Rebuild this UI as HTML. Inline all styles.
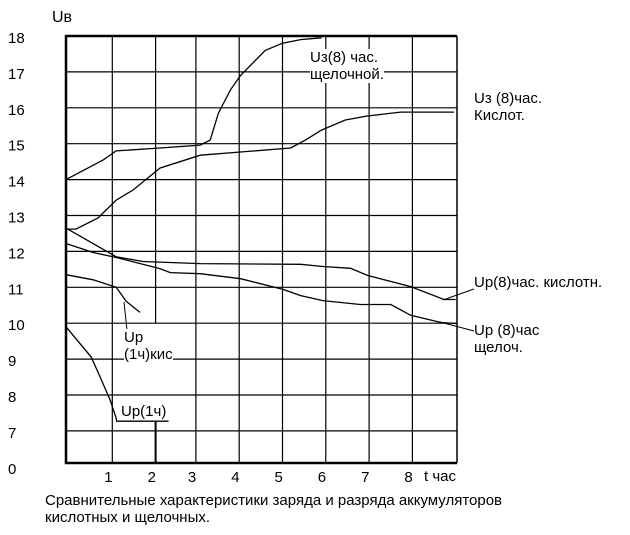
<!DOCTYPE html>
<html><head><meta charset="utf-8"><style>
body{margin:0;background:#fff;}
svg{display:block;font-family:"Liberation Sans",sans-serif;}
text{fill:#000;font-size:15px;}
</style></head><body>
<svg id="chart" width="630" height="535" viewBox="0 0 630 535" xmlns="http://www.w3.org/2000/svg">
<g id="grid"></g>
<g id="series"></g>
<g id="labels"></g>
</svg>
<script>
const yTicks=[18,17,16,15,14,13,12,11,10,9,8,7];
const xTicks=[1,2,3,4,5,6,7,8];
const zeroLabel="0";
const alkChargeH=[0,0.79,1.09,2.1,3.1,3.33,3.52,3.8,4.03,4.6,5.0,5.42,5.9];
const alkChargeV=[14.0,14.55,14.8,14.88,14.96,15.1,15.85,16.5,16.9,17.6,17.8,17.9,17.95];
const acidChargeH=[0,0.16,0.67,1.09,1.48,2.1,3.1,4.03,5.19,5.53,5.9,6.45,6.94,7.73,8.96];
const acidChargeV=[12.62,12.62,12.93,13.43,13.71,14.32,14.68,14.77,14.88,15.1,15.38,15.66,15.77,15.88,15.88];
const acidDisH=[0,1.09,1.71,3.1,5.42,5.93,6.57,6.97,7.96,8.73,9.0];
const acidDisV=[12.65,11.85,11.72,11.66,11.64,11.58,11.53,11.33,11.02,10.66,10.66];
const alkDisH=[0,0.56,1.09,2.1,2.34,3.1,4.03,5.02,5.42,5.93,6.8,7.5,7.96,8.66,9.05];
const alkDisV=[12.22,11.97,11.83,11.52,11.41,11.38,11.24,10.94,10.77,10.63,10.52,10.52,10.22,10.02,9.99];
const acid1H=[0,0.56,1.09,1.32,1.64];
const acid1V=[11.35,11.21,11.0,10.61,10.3];
const alk1H=[0,0.51,0.72,0.95,1.09,1.1,2.3];
const alk1V=[9.9,9.06,8.5,7.86,7.35,7.27,7.27];

const L=66,R=457,T=36,B=463;
const X=h=>Math.min(R,L+h*43.3+(h>0&&h<=2.5?3:0));
const Y=v=>T+(18-v)*35.9;
const NS="http://www.w3.org/2000/svg";
function mk(tag,attrs,parent){const e=document.createElementNS(NS,tag);for(const k in attrs)e.setAttribute(k,attrs[k]);parent.appendChild(e);return e;}
const grid=document.getElementById('grid'),ser=document.getElementById('series'),lab=document.getElementById('labels');

yTicks.forEach(v=>{
  if(v<18){const ln=mk('line',{x1:L,x2:R,y1:Y(v),y2:Y(v),stroke:'#000','stroke-width':1.2},grid);
  
  }
  const t=mk('text',{x:8,y:Y(v)+7},lab);t.textContent=v;
  
  
});
const z=mk('text',{x:8,y:B+11},lab);z.textContent=zeroLabel;


xTicks.forEach(h=>{
  const x=X(h);
  if(h===2){
    const a=mk('line',{x1:x,x2:x,y1:T,y2:Y(10),stroke:'#000','stroke-width':1.2},grid);
    
    
    const b=mk('line',{x1:x,x2:x,y1:Y(7.27),y2:B,stroke:'#000','stroke-width':2},grid);
    
    
  } else {
    const ln=mk('line',{x1:x,x2:x,y1:T,y2:B,stroke:'#000','stroke-width':1.2},grid);
    
    
  }
  const t=mk('text',{x:x-8,y:482},lab);t.textContent=h;
  
  
});
const fr=mk('path',{d:`M${R},${T} H${L} V${B} H${R}`,fill:'none',stroke:'#000','stroke-width':2.5},grid);


const rb=mk('line',{x1:R,x2:R,y1:T,y2:B,stroke:'#000','stroke-width':1.5},grid);



function series(H,V,name){
  const d=H.map((h,i)=>(i?'L':'M')+X(h).toFixed(1)+','+Y(V[i]).toFixed(1)).join(' ');
  const p=mk('path',{d:d,fill:'none',stroke:'#000','stroke-width':1.3},ser);
  
  
}
series(alkChargeH,alkChargeV,'line-charge-alkaline-8h');
series(acidChargeH,acidChargeV,'line-charge-acid-8h');
series(acidDisH,acidDisV,'line-discharge-acid-8h');
series(alkDisH,alkDisV,'line-discharge-alkaline-8h');
series(acid1H,acid1V,'line-discharge-acid-1h');
series(alk1H,alk1V,'line-discharge-alkaline-1h');

const leaders=[[443,300,474,289],[440,322,474,331],[124,302,127,330]];
leaders.forEach((l,i)=>{
  const e=mk('line',{x1:l[0],y1:l[1],x2:l[2],y2:l[3],stroke:'#000','stroke-width':1},ser);
  
  
});
</script>
<div style="position:absolute;left:0;top:0;width:630px;height:535px;pointer-events:none;font-family:'Liberation Sans',sans-serif;font-size:15px;line-height:17px;">
<div style="position:absolute;left:52px;top:9px;font-size:16px;">Uв</div>
<div style="position:absolute;left:310px;top:49px;background:#fff;">Uз(8) час.</div>
<div style="position:absolute;left:310px;top:66px;background:#fff;">щелочной.</div>
<div style="position:absolute;left:474px;top:90px;">Uз (8)час.<br>Кислот.</div>
<div style="position:absolute;left:474px;top:274px;">Up(8)час. кислотн.</div>
<div style="position:absolute;left:474px;top:322px;">Up (8)час<br>щелоч.</div>
<div style="position:absolute;left:124px;top:329px;background:#fff;">Up<br>(1ч)кис</div>
<div style="position:absolute;left:121px;top:403px;">Up(1ч)</div>
<div style="position:absolute;left:424px;top:468px;">t час</div>
<div style="position:absolute;left:45px;top:492px;">Сравнительные характеристики заряда и разряда аккумуляторов<br>кислотных и щелочных.</div>
</div>
</body></html>
